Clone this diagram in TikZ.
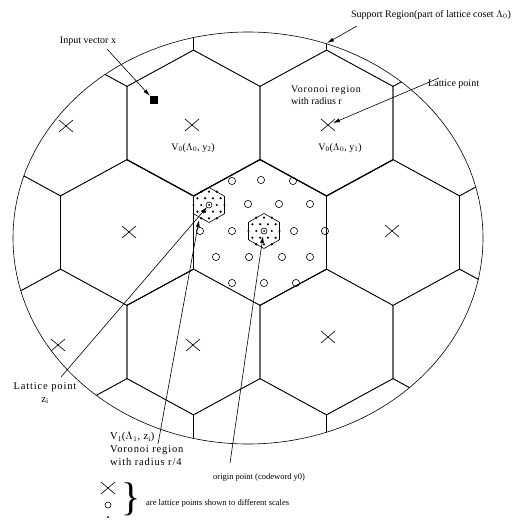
\documentclass[tikz,border=0pt]{standalone}
\usepackage{fontspec}
\setmainfont{Liberation Serif}
\newfontfamily\widefont[LetterSpace=8]{Liberation Serif}
\usetikzlibrary{arrows.meta}
\tikzset{
  edge/.style={line width=0.6pt},
  boldedge/.style={line width=1.2pt},
  midedge/.style={line width=0.9pt},
  lbl/.style={font=\fontsize{10}{12}\selectfont, inner sep=0pt, align=left},
  widelbl/.style={font=\widefont\fontsize{10.5}{13}\selectfont, inner sep=0pt, align=left},
  small/.style={font=\fontsize{8.5}{10}\selectfont, inner sep=0pt},
  arr/.style={line width=0.6pt,-{Latex[length=7pt,width=4pt]}},
  lpt/.style={circle, draw, line width=0.6pt, minimum size=7.2pt, inner sep=0pt},
  hexcell/.pic={\draw[edge] (0,-73)--(66.5,-36.75)--(66.5,36.75)--(0,73)--(-66.5,36.75)--(-66.5,-36.75)--cycle;},
  crossmark/.pic={\draw[line width=0.6pt] (-7,-6)--(7,6) (-7,6)--(7,-6);},
  subhex/.pic={
    \draw[line width=0.6pt] (0,-17.5)--(15.5,-8.75)--(15.5,8.75)--(0,17.5)--(-15.5,8.75)--(-15.5,-8.75)--cycle;
    \foreach \dx/\dy in {-15.5/0,-7.75/0,7.75/0,15.5/0,
       -11.6/6.7,-3.9/6.7,3.9/6.7,11.6/6.7,
       -11.6/-6.7,-3.9/-6.7,3.9/-6.7,11.6/-6.7,
       -7.75/13.4,0/13.4,7.75/13.4,-7.75/-13.4,0/-13.4,7.75/-13.4}
      {\fill (\dx,\dy) circle[radius=1.2];}
    \draw[line width=0.6pt] (0,0) circle[radius=3];
    \fill (0,0) circle[radius=1];
  }
}
\begin{document}
\begin{tikzpicture}[x=1pt,y=-1pt]
\useasboundingbox (0,0) rectangle (532,521);
% hexagonal Voronoi cells of Lambda_0, clipped to the support region
\begin{scope}
  \clip (248,238) ellipse [x radius=235, y radius=206];
  \foreach \cx in {-72.5,60.5,193.5,326.5,459.5} {
    \pic at (\cx,123) {hexcell};
    \pic at (\cx,342) {hexcell};
  }
  \foreach \cx in {-6,127,260,393,526} {
    \pic at (\cx,13.5) {hexcell};
    \pic at (\cx,232.5) {hexcell};
    \pic at (\cx,451.5) {hexcell};
  }
\end{scope}
\draw[edge] (248,238) ellipse [x radius=235, y radius=206];
% emphasised boundary
\draw[boldedge] (127,159.75) -- (193.5,196) -- (260,159.5) -- (326.5,196) -- (393,159.75);
\draw[midedge] (127,305.25) -- (193.5,269.25);
\draw[midedge] (260,305.25) -- (326.5,269.25);
% Lambda_0 lattice points
\foreach \p in {(66,126),(192,125),(328,125),(129,232),(392,231),(58,345),(193,345),(328,337)}
  {\pic at \p {crossmark};}
% Lambda_1 lattice points
\foreach \p in {(232,181),(261,180),(293,181),
                (248,204),(279,204),(310,204),
                (200,231),(232,231),(294,231),(325,231),
                (216,257),(249,257),(282,257),(310,257),
                (232,283),(264,283),(296,283)}
  {\node[lpt] at \p {};}
% Voronoi regions of Lambda_1 with Lambda_2 points
\pic at (209,205) {subhex};
\pic at (264,231) {subhex};
\coordinate (zi) at (207,207);
\coordinate (orig) at (264,231);
% input vector
\node[fill=black, minimum size=8pt, inner sep=0pt] (xv) at (154,100) {};
% labels
\node[lbl] (inp) at (88,41) {Input vector x};
\node[lbl] (sup) at (431,15) {Support Region(part of lattice coset $\Lambda_0$)};
\node[lbl, anchor=west] (vor) at (291,95) {{\widefont Voronoi region}\\with radius r};
\node[lbl, anchor=west] (lpr) at (428,84) {Lattice point};
\node[lbl] (vy2) at (193,148) {V\textsubscript{0}($\Lambda_0$, y\textsubscript{2})};
\node[lbl] (vy1) at (340,148) {V\textsubscript{0}($\Lambda_0$, y\textsubscript{1})};
\node[widelbl, align=center] (lpz) at (45,393) {Lattice point\\z\textsubscript{i}};
\node[widelbl, anchor=north west] (v1) at (110,432) {V\textsubscript{1}($\Lambda_1$, z\textsubscript{i})\\Voronoi region\\with radius r/4};
\node[small, anchor=west] (org) at (213,477) {origin point (codeword y0)};
% arrows
\coordinate (inpS) at (107,49);
\coordinate (supS) at (357,26);
\coordinate (supT) at (327,43);
\coordinate (lprS) at (439,78);
\coordinate (lprT) at (333,123);
\coordinate (lpzS) at (61,377);
\coordinate (v1S) at (158,444);
\coordinate (v1T) at (199,220);
\coordinate (orgS) at (230,463);
\coordinate (orgT) at (263,236);
\draw[arr] (inpS) -- (xv.north west);
\draw[arr] (supS) -- (supT);
\draw[arr] (lprS) -- (lprT);
\draw[arr] (lpzS) -- (zi);
\draw[arr] (v1S) -- (v1T);
\draw[arr] (orgS) -- (orgT);
% legend
\pic at (108,488) {crossmark};
\node[lpt, minimum size=6pt] (lgc) at (108,505) {};
\fill (108,517) circle[radius=1];
\node[inner sep=0pt, font=\fontsize{40}{40}\selectfont] (brace) at (131,499) {\}};
\node[small, anchor=west] (lgt) at (146,503) {are lattice points shown to different scales};
\end{tikzpicture}
\end{document}
